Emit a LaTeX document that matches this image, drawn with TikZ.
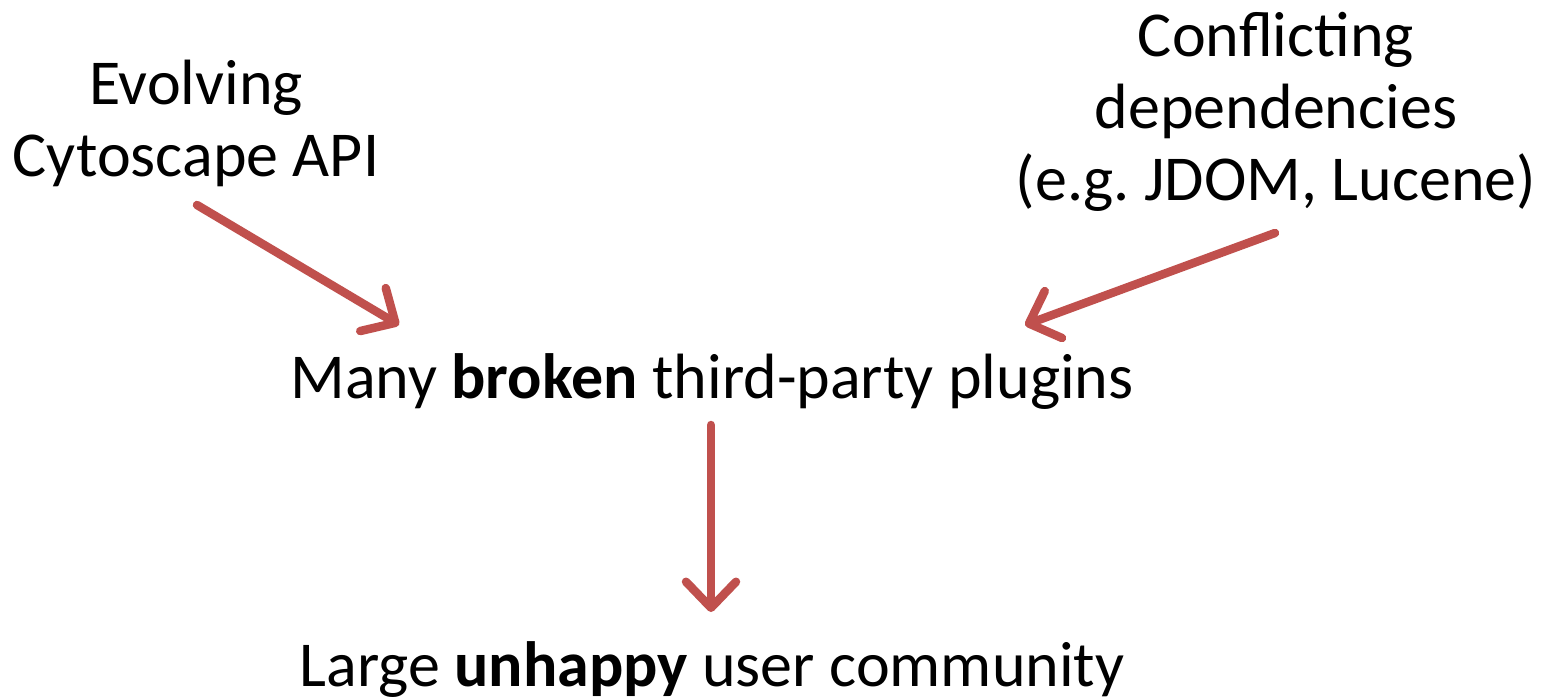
\documentclass[tikz,border=0pt]{standalone}
\usepackage{fontspec}
\setmainfont{Carlito}
\usetikzlibrary{arrows.meta,calc}
\definecolor{arrred}{HTML}{C0504D}
\frenchspacing
\begin{document}
\begin{tikzpicture}[x=1pt,y=-1pt,
  lbl/.style={inner sep=0pt, align=center, font=\fontsize{64}{72}\selectfont},
  conn/.style={draw=arrred, line width=8.5pt, line cap=round,
    -{Straight Barb[length=26pt,width=50pt,line cap=round,line join=round]}}]
\useasboundingbox (0,0) rectangle (1552,696);
\node[lbl, anchor=base] (evo) at (196,176) {Evolving\\Cytoscape API};
\node[lbl, anchor=base] (conf) at (1276,200) {Conflicting\\dependencies\\(e.g. JDOM, Lucene)};
\node[lbl, anchor=base] (many) at (712,398) {Many \textbf{broken} third-party plugins};
\node[lbl, anchor=base] (large) at (712,686) {Large \textbf{unhappy} user community};
\draw[conn] ($(evo.base)+(1,29)$) -- ($(many.base)+(-313,-73)$);
\draw[conn] ($(conf.base)+(-1,33)$) -- ($(many.base)+(313,-73)$);
\draw[conn] ($(many.base)+(-1,27)$) -- ($(large.base)+(-1,-74)$);
\end{tikzpicture}
\end{document}
